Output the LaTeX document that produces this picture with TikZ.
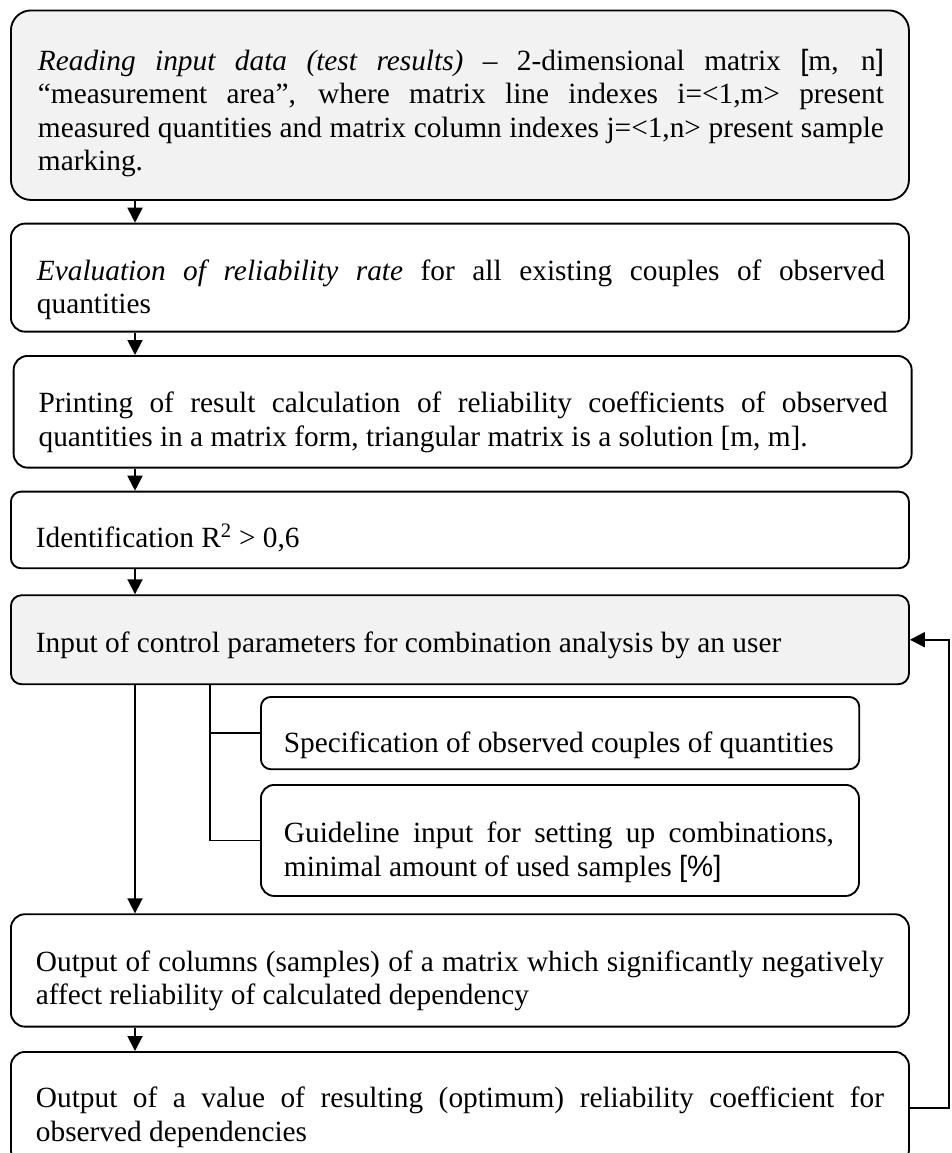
\documentclass[tikz,border=0pt]{standalone}
\usepackage{fontspec}
\setmainfont{Liberation Serif}
\newfontfamily\sansf{Liberation Sans}
\usetikzlibrary{arrows.meta}
\newdimen\px \px=0.75pt
\definecolor{boxgray}{HTML}{F2F2F2}
% #1 box width, #2 box height, #3 left margin, #4 text width, #5 first baseline, #6 text (all in px)
\newcommand\bxt[6]{\parbox[c][#2\px][t]{#1\px}{\hspace*{#3\px}\parbox[t]{#4\px}{\hyphenpenalty=10000\rule{0pt}{#5\px}#6}}}
\tikzset{
  box/.style={draw, line width=1.4pt, inner sep=0pt, anchor=north west, rounded corners=#1,
    font=\fontsize{22pt}{24.975pt}\selectfont},
  box/.default=10pt,
  conn/.style={line width=1.4pt},
  arr/.style={conn, -{Triangle[length=11.25pt,width=11.25pt]}}
}
\begin{document}
\begin{tikzpicture}[x=0.75pt,y=-0.75pt]
\useasboundingbox (0,0) rectangle (951,1153);
\clip (0,0) rectangle (951,1153);
\node[box=15pt, fill=boxgray] (b1) at (10,9.5) {\bxt{898}{189.5}{27}{846}{60}{\textit{Reading input data (test results)} – 2-dimensional matrix {\sansf[}m, n{\sansf]}\linebreak “measurement area”, where matrix line indexes i=<1,m> present\linebreak measured quantities and matrix column indexes j=<1,n> present sample\linebreak marking.}};
\node[box=10.5pt] (b2) at (10,222.7) {\bxt{898}{108}{26}{848}{57}{\textit{Evaluation of reliability rate} for all existing couples of observed\linebreak quantities}};
\node[box=10.5pt] (b3) at (12.7,355) {\bxt{898}{111.7}{25}{849}{57}{Printing of result calculation of reliability coefficients of observed\linebreak quantities in a matrix form, triangular matrix is a solution [m, m].}};
\node[box=7.5pt] (b4) at (10,490.7) {\bxt{898}{76.6}{25}{848}{56}{Identification R\textsuperscript{2} > 0,6}};
\node[box=8pt, fill=boxgray] (b5) at (10,594.3) {\bxt{898}{89}{25}{848}{57}{Input of control parameters for combination analysis by an user}};
\node[box=7.5pt] (b6) at (260,696) {\bxt{598.3}{72.3}{23}{552}{56}{Specification of observed couples of quantities}};
\node[box=10pt] (b7) at (260,784) {\bxt{598}{111}{23}{550}{58}{Guideline input for setting up combinations,\linebreak minimal amount of used samples {\sansf[\%]}}};
\node[box=10.5pt] (b8) at (10,913.3) {\bxt{898}{112.4}{25}{848}{57}{Output of columns (samples) of a matrix which significantly negatively\linebreak affect reliability of calculated dependency}};
\node[box=10.5pt] (b9) at (10,1051) {\bxt{898}{112}{25}{848}{56}{Output of a value of resulting (optimum) reliability coefficient for\linebreak observed dependencies}};
\coordinate (ax) at (135,0);
\coordinate (br) at (210,0);
\coordinate (fb) at (949,0);
\draw[arr] (b1.south -| ax) -- (b2.north -| ax);
\draw[arr] (b2.south -| ax) -- (b3.north -| ax);
\draw[arr] (b3.south -| ax) -- (b4.north -| ax);
\draw[arr] (b4.south -| ax) -- (b5.north -| ax);
\draw[arr] (b5.south -| ax) -- (b8.north -| ax);
\draw[arr] (b8.south -| ax) -- (b9.north -| ax);
\draw[conn] (b5.south -| br) |- (b6.west);
\draw[conn] (b5.south -| br) |- (b7.west);
\draw[arr] (b9.east) -- (b9.east -| fb) |- (b5.east);
\end{tikzpicture}
\end{document}
